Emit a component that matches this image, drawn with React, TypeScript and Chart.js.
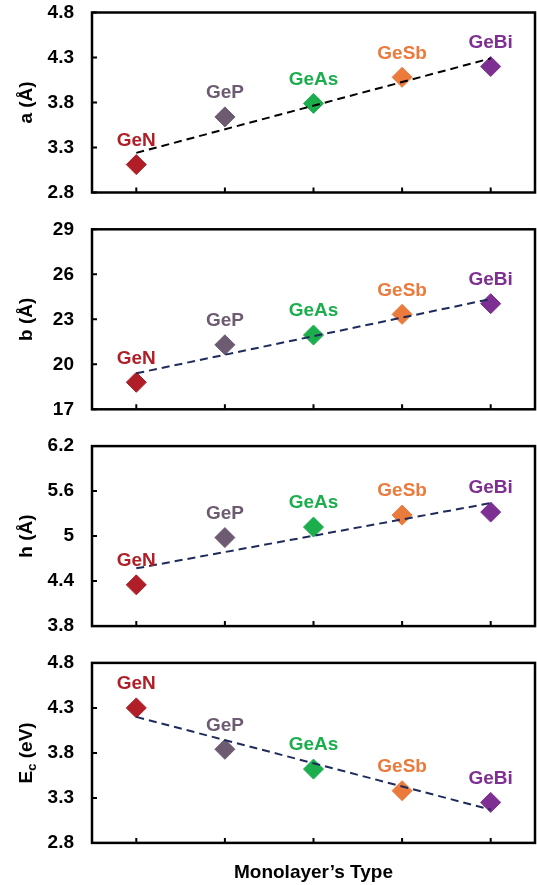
import React, { useEffect, useRef } from 'react';
import { Chart, registerables } from 'chart.js';

Chart.register(...registerables);

// ---------- data ----------
const CATEGORIES = ['GeN', 'GeP', 'GeAs', 'GeSb', 'GeBi'];
const COLORS = ['#B01F27', '#6D5B72', '#1CAE4D', '#EB7A3D', '#7E2F92'];

const A_VALUES = [3.11, 3.64, 3.79, 4.08, 4.2];
const A_TREND = [3.24, 4.29];
const A_TICKS = [2.8, 3.3, 3.8, 4.3, 4.8];

const B_VALUES = [18.8, 21.3, 21.95, 23.33, 24.04];
const B_TREND = [19.4, 24.35];
const B_TICKS = [17, 20, 23, 26, 29];

const H_VALUES = [4.35, 4.98, 5.12, 5.28, 5.32];
const H_TREND = [4.57, 5.44];
const H_TICKS = [3.8, 4.4, 5, 5.6, 6.2];

const EC_VALUES = [4.3, 3.84, 3.62, 3.38, 3.25];
const EC_TREND = [4.2, 3.17];
const EC_TICKS = [2.8, 3.3, 3.8, 4.3, 4.8];

const X_TITLE = 'Monolayer\u2019s Type';

type TitlePart = { text: string; sub?: boolean };
type PanelDef = {
  values: number[];
  trend: number[];
  ticks: number[];
  title: TitlePart[];
  trendColor: string;
};

const PANELS: PanelDef[] = [
  { values: A_VALUES, trend: A_TREND, ticks: A_TICKS, title: [{ text: 'a (Å)' }], trendColor: '#000000' },
  { values: B_VALUES, trend: B_TREND, ticks: B_TICKS, title: [{ text: 'b (Å)' }], trendColor: '#1F2B5B' },
  { values: H_VALUES, trend: H_TREND, ticks: H_TICKS, title: [{ text: 'h (Å)' }], trendColor: '#1F2B5B' },
  {
    values: EC_VALUES,
    trend: EC_TREND,
    ticks: EC_TICKS,
    title: [{ text: 'E' }, { text: 'c', sub: true }, { text: ' (eV)' }],
    trendColor: '#1F2B5B',
  },
];

const FONT = "'Liberation Sans', Arial, Helvetica, sans-serif";
const W = 537;
const H = 885;
const OFF = 40; // canvas starts above the page so top padding is never too small

const boxPlugin = {
  id: 'boxPlugin',
  afterDraw(chart: any) {
    const { ctx, chartArea: a, scales } = chart;
    ctx.save();
    ctx.strokeStyle = '#000';
    ctx.lineWidth = 2.5;
    ctx.strokeRect(a.left, a.top, a.right - a.left, a.bottom - a.top);
    ctx.lineWidth = 2;
    ctx.beginPath();
    scales.y.ticks.forEach((t: any) => {
      const y = scales.y.getPixelForValue(t.value);
      ctx.moveTo(a.left, y);
      ctx.lineTo(a.left + 5, y);
    });
    CATEGORIES.forEach((_c, i) => {
      const x = scales.x.getPixelForValue(i);
      ctx.moveTo(x, a.bottom);
      ctx.lineTo(x, a.bottom - 5);
    });
    ctx.stroke();
    ctx.restore();
  },
};

const labelPlugin = {
  id: 'labelPlugin',
  afterDatasetsDraw(chart: any) {
    const { ctx } = chart;
    const meta = chart.getDatasetMeta(1);
    ctx.save();
    ctx.font = `bold 19px ${FONT}`;
    ctx.textAlign = 'center';
    ctx.textBaseline = 'middle';
    meta.data.forEach((pt: any, i: number) => {
      ctx.fillStyle = COLORS[i];
      ctx.fillText(CATEGORIES[i], pt.x, pt.y - 24);
    });
    ctx.restore();
  },
};

function makeTitlePlugin(parts: TitlePart[]) {
  return {
    id: 'yTitlePlugin',
    afterDraw(chart: any) {
      const { ctx, chartArea: a } = chart;
      const mainFont = `bold 19px ${FONT}`;
      const subFont = `bold 13px ${FONT}`;
      ctx.save();
      let total = 0;
      const widths = parts.map((p) => {
        ctx.font = p.sub ? subFont : mainFont;
        const w = ctx.measureText(p.text).width;
        total += w;
        return w;
      });
      const cy = (a.top + a.bottom) / 2;
      ctx.translate(32, cy);
      ctx.rotate(-Math.PI / 2);
      ctx.fillStyle = '#000';
      ctx.textBaseline = 'alphabetic';
      ctx.textAlign = 'left';
      let x = -total / 2;
      parts.forEach((p, i) => {
        ctx.font = p.sub ? subFont : mainFont;
        ctx.fillText(p.text, x, p.sub ? 4 : 0);
        x += widths[i];
      });
      ctx.restore();
    },
  };
}

function Panel({ index }: { index: number }) {
  const ref = useRef<HTMLCanvasElement>(null);
  useEffect(() => {
    const p = PANELS[index];
    const top = 12.5 + index * 216.8;
    const bottom = top + 180;
    const isLast = index === PANELS.length - 1;
    const xAxisH = isLast ? 42 : 0;
    const trendData = CATEGORIES.map((_c, i) =>
      i === 0 ? p.trend[0] : i === CATEGORIES.length - 1 ? p.trend[1] : null
    );
    const chart = new Chart(ref.current as HTMLCanvasElement, {
      type: 'line',
      data: {
        labels: CATEGORIES,
        datasets: [
          {
            data: trendData as any,
            borderColor: p.trendColor,
            borderWidth: 2,
            borderDash: [8, 5],
            pointRadius: 0,
            spanGaps: true,
            fill: false,
            tension: 0,
          },
          {
            data: p.values,
            showLine: false,
            pointStyle: 'rectRot',
            pointRadius: 10,
            pointHoverRadius: 10,
            pointBackgroundColor: COLORS,
            pointBorderColor: COLORS,
            pointBorderWidth: 1,
          },
        ],
      },
      options: {
        animation: false,
        responsive: false,
        events: [],
        layout: {
          autoPadding: false,
          padding: { top: top + OFF, bottom: H - bottom - xAxisH, left: 0, right: 2 },
        },
        plugins: { legend: { display: false }, tooltip: { enabled: false } },
        scales: {
          x: {
            type: 'category',
            offset: true,
            display: isLast,
            grid: { display: false, drawTicks: false },
            border: { display: false },
            ticks: { display: false },
            title: {
              display: isLast,
              text: X_TITLE,
              color: '#000',
              font: { family: FONT, size: 19, weight: 'bold' },
              padding: { top: 0, bottom: 1 },
            },
            afterFit: (s: any) => {
              s.height = xAxisH;
            },
          },
          y: {
            min: p.ticks[0],
            max: p.ticks[p.ticks.length - 1],
            grid: { display: false, drawTicks: false },
            border: { display: false },
            ticks: {
              color: '#000',
              font: { family: FONT, size: 19, weight: 'bold' },
              padding: 18,
              callback: (v: any) => String(v),
            },
            afterBuildTicks: (s: any) => {
              s.ticks = p.ticks.map((v) => ({ value: v }));
            },
            afterFit: (s: any) => {
              s.width = 92;
            },
          },
        },
      } as any,
      plugins: [boxPlugin, labelPlugin, makeTitlePlugin(p.title)],
    });
    return () => chart.destroy();
  }, [index]);
  return (
    <canvas
      ref={ref}
      width={W}
      height={H + OFF}
      style={{ position: 'absolute', left: 0, top: -OFF, width: W, height: H + OFF }}
    />
  );
}

export default function App() {
  return (
    <div
      style={{
        position: 'absolute',
        left: 0,
        top: 0,
        width: W,
        height: H,
        overflow: 'hidden',
        background: '#fff',
      }}
    >
      {PANELS.map((_p, i) => (
        <Panel key={i} index={i} />
      ))}
    </div>
  );
}
